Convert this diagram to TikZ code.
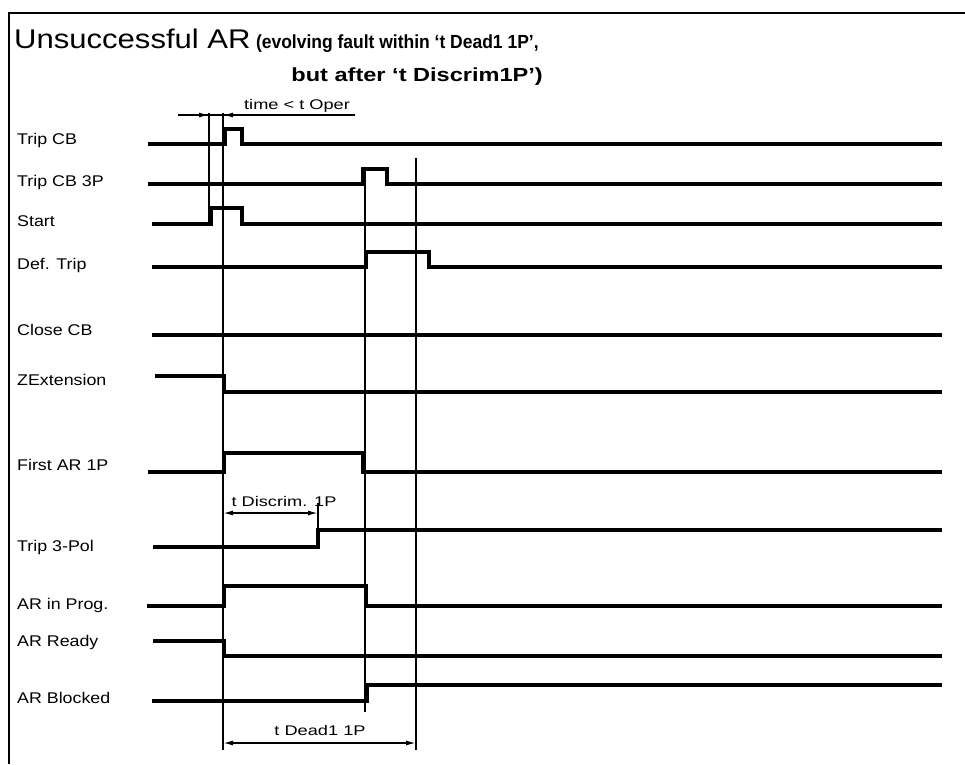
\documentclass[tikz,border=0pt]{standalone}
\usepackage{fontspec}
\setmainfont{Liberation Sans}
\usetikzlibrary{arrows.meta,positioning}
\newcommand{\widetxt}[2][1.15]{\scalebox{#1}[1]{#2}}

\begin{document}
\begin{tikzpicture}[
  x=1pt, y=-1pt,
  >={Latex[length=10pt,width=5pt]},
  title/.style={font=\fontsize{27}{31}\selectfont, inner sep=0pt},
  subtitle/.style={font=\fontsize{19}{22}\selectfont\bfseries, inner sep=0pt},
  sig/.style={anchor=west, font=\fontsize{15.5}{18}\selectfont, inner sep=0pt},
  dimlabel/.style={font=\fontsize{14}{16}\selectfont, inner sep=0pt},
  wave/.style={line width=4.8pt, line join=miter},
  wavethin/.style={line width=3.2pt, line join=miter},
  marker/.style={line width=1.5pt},
  dim/.style={marker, <->}
]
  \useasboundingbox (0,0) rectangle (965,764);
  \draw[line width=2pt] (9,764) -- (9,13) -- (965,13);

  % heading
  \node[title, anchor=base west] (title) at (14,48) {\widetxt[1.15]{Unsuccessful AR}};
  \node[subtitle, anchor=base west] (cond) at ([xshift=5pt]title.base east) {\widetxt[0.92]{(evolving fault within ‘t Dead1 1P’,}};
  \node[subtitle, anchor=base east] (cond2) at (543,81) {\widetxt[1.24]{but after ‘t Discrim1P’)}};

  % signal names
  \node[sig] (tripcb)   at (17,140) {\widetxt{Trip CB}};
  \node[sig] (tripcb3p) at (17,182) {\widetxt{Trip CB 3P}};
  \node[sig] (start)    at (17,221) {\widetxt{Start}};
  \node[sig] (deftrip)  at (17,265) {\widetxt{Def. Trip}};
  \node[sig] (closecb)  at (17,330) {\widetxt{Close CB}};
  \node[sig] (zext)     at (17,380) {\widetxt{ZExtension}};
  \node[sig] (firstar)  at (17,465) {\widetxt{First AR 1P}};
  \node[sig] (trip3pol) at (17,547) {\widetxt{Trip 3-Pol}};
  \node[sig] (arprog)   at (17,605) {\widetxt{AR in Prog.}};
  \node[sig] (arready)  at (17,642) {\widetxt{AR Ready}};
  \node[sig] (arblock)  at (17,698) {\widetxt{AR Blocked}};

  % waveforms
  \draw[wave] (148,144) -- (225,144) -- (225,129) -- (242,129) -- (242,144) -- (942,144);
  \draw[wavethin] (148,184) -- (363,184) -- (363,169) -- (387,169) -- (387,184) -- (942,184);
  \draw[wave] (152,224) -- (211,224) -- (211,208) -- (242,208) -- (242,224) -- (942,224);
  \draw[wavethin] (152,267) -- (366,267) -- (366,252) -- (429,252) -- (429,267) -- (942,267);
  \draw[wave] (152,335) -- (942,335);
  \draw[wave] (155,376) -- (224,376) -- (224,392) -- (942,392);
  \draw[wave] (148,472) -- (224,472) -- (224,453) -- (363,453) -- (363,472) -- (942,472);
  \draw[wave] (153,547) -- (318,547) -- (318,530) -- (942,530);
  \draw[wave] (147,606) -- (224,606) -- (224,586) -- (366,586) -- (366,606) -- (942,606);
  \draw[wave] (153,641) -- (224,641) -- (224,656) -- (942,656);
  \draw[wave] (152,701) -- (367,701) -- (367,685) -- (942,685);

  % time markers
  \coordinate (fault)  at (209,115);
  \coordinate (trip)   at (223,115);
  \coordinate (discr)  at (318,513);
  \coordinate (reclose) at (416,743);
  \draw[marker] (209,113) -- (209,225);
  \draw[marker] (223,113) -- (223,750);
  \draw[marker] (365,170) -- (365,712);
  \draw[marker] (416,158) -- (416,750);
  \draw[marker] (318,503) -- (318,530);

  % measured times
  \coordinate (operL) at (178,115);
  \coordinate (operR) at (355,115);
  \draw[marker] (operL) -- (operR);
  \draw[marker, ->] (operL) -- (fault);
  \draw[marker, ->] (operR) -- (trip);
  \node[dimlabel] (toper) at (297,106) {\widetxt[1.3]{time < t Oper}};
  \draw[dim] (trip |- discr) -- (discr);
  \node[dimlabel] (tdiscrim) at (284,501) {\widetxt[1.3]{t Discrim. 1P}};
  \draw[dim] (trip |- reclose) -- (reclose);
  \node[dimlabel] (tdead) at (320,730) {\widetxt[1.3]{t Dead1 1P}};
\end{tikzpicture}
\end{document}
